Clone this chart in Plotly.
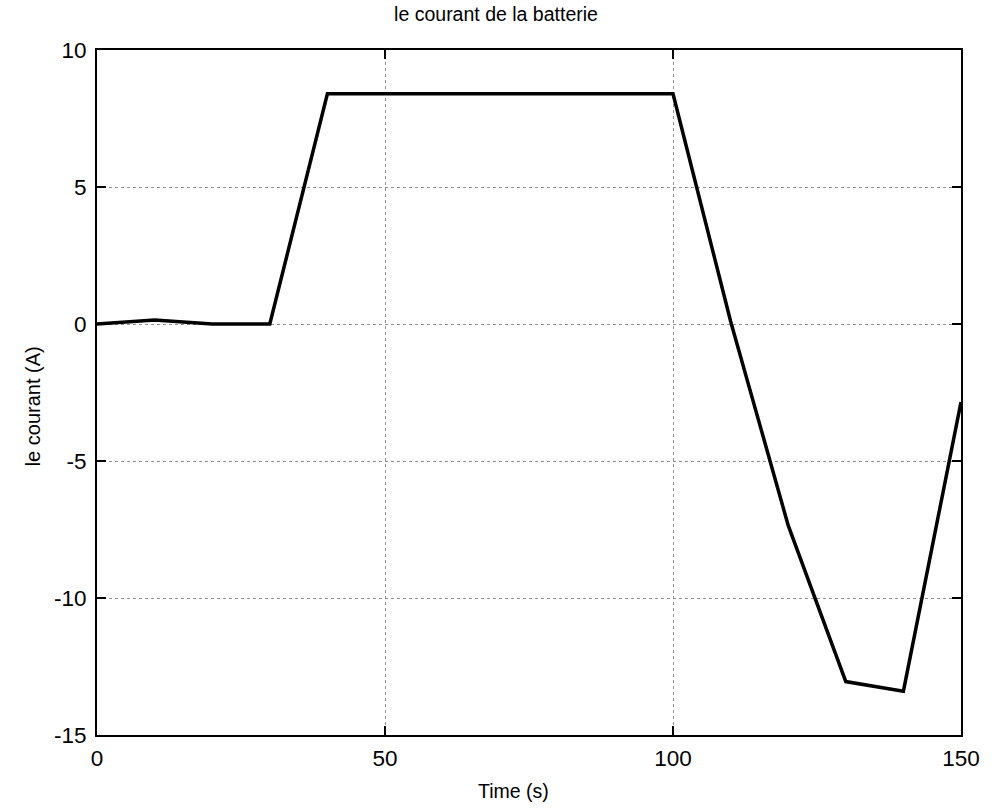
import plotly.graph_objects as go

# Battery current samples (time in s, current in A)
time_s = [0, 10, 20, 30, 40, 50, 60, 70, 80, 90, 100, 110, 120, 130, 140, 150]
current_a = [0.0, 0.15, 0.0, 0.0, 8.4, 8.4, 8.4, 8.4, 8.4, 8.4, 8.4, 0.1, -7.35, -13.05, -13.4, -2.85]

x_ticks = [0, 50, 100, 150]
y_ticks = [10, 5, 0, -5, -10, -15]
y_tick_text = ["10", "5", "0", "-5", "-10", "-15"]

font_family = "Liberation Sans, Arial, sans-serif"
W, H = 992, 812
L, R, T, B = 97, 26, 50, 77

fig = go.Figure()
fig.add_trace(go.Scatter(
    x=time_s, y=current_a, mode="lines",
    line=dict(color="black", width=3.5),
    showlegend=False,
))

axis_common = dict(
    showline=True, linecolor="black", linewidth=2, mirror="ticks",
    ticks="inside", ticklen=9, tickwidth=1.5, tickcolor="black",
    showgrid=True, gridcolor="#909090", griddash="dot", gridwidth=1,
    zeroline=False,
    tickfont=dict(family=font_family, size=22.5, color="black"),
)

fig.update_xaxes(range=[0, 150], tickvals=x_ticks, ticklabelstandoff=2, **axis_common)
fig.update_yaxes(range=[-15, 10], tickvals=y_ticks, ticktext=y_tick_text,
                 ticklabelstandoff=4, **axis_common)

# Axis titles placed as paper annotations
pw, ph = W - L - R, H - T - B
fig.add_annotation(text="Time (s)", xref="paper", yref="paper",
                   x=(516 - L) / pw, y=-(791 - (H - B)) / ph,
                   xanchor="center", yanchor="middle", showarrow=False,
                   font=dict(family=font_family, size=19.5, color="black"))
fig.add_annotation(text="le courant (A)", xref="paper", yref="paper",
                   x=(33 - L) / pw, y=((H - B) - 406) / ph,
                   xanchor="center", yanchor="middle", textangle=-90, showarrow=False,
                   font=dict(family=font_family, size=20, color="black"))

fig.update_layout(
    width=W, height=H,
    margin=dict(l=L, r=R, t=T, b=B),
    paper_bgcolor="white", plot_bgcolor="white",
    title=dict(text="le courant de la batterie", x=0.5, xanchor="center",
               y=1 - 14 / H, yanchor="middle",
               font=dict(family=font_family, size=19.5, color="black")),
)

fig.write_html("out.html")
